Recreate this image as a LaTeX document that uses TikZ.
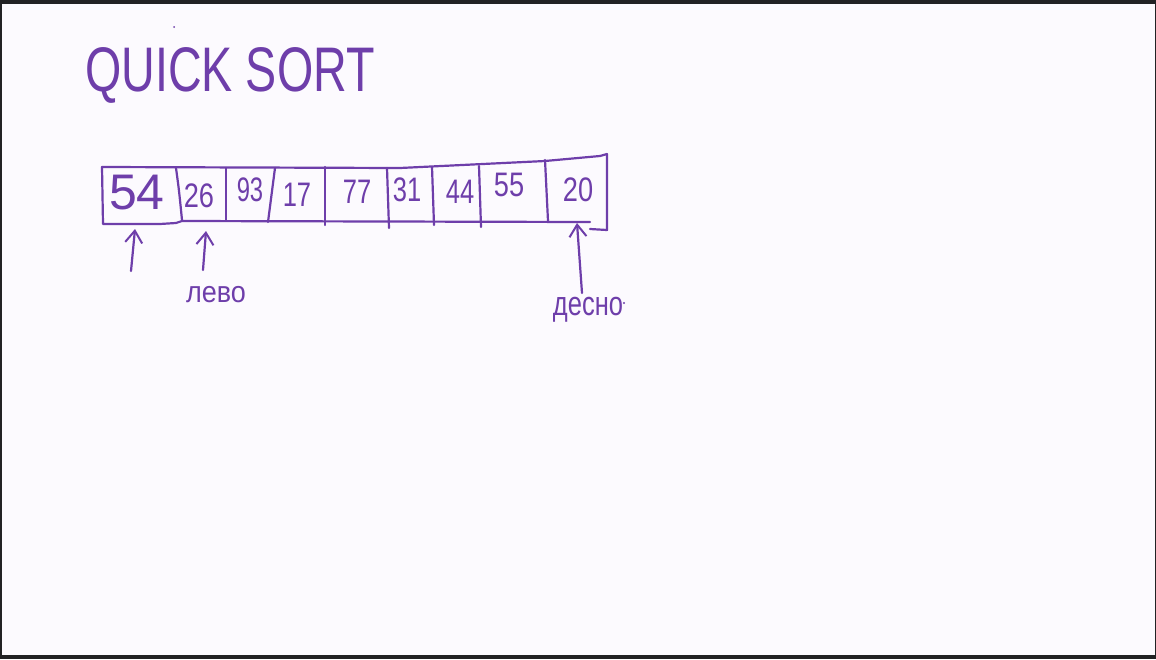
\documentclass[tikz,border=0pt]{standalone}
\usepackage{fontspec}
\usepackage{graphicx}
\setmainfont{Liberation Sans}
\usetikzlibrary{arrows.meta}
\definecolor{ink}{RGB}{110,62,170}
\definecolor{paper}{RGB}{252,250,254}
\definecolor{edgecol}{RGB}{34,34,36}
\begin{document}
\begin{tikzpicture}[x=1pt,y=-1pt,
  pen/.style={draw=ink, line width=2.2pt, line cap=round, line join=round},
  num/.style={text=ink, inner sep=0pt, font=\fontsize{34}{34}\selectfont},
  bignum/.style={text=ink, inner sep=0pt, font=\fontsize{50}{50}\selectfont},
  lbl/.style={text=ink, inner sep=0pt, anchor=base, font=\fontsize{30}{30}\selectfont},
  arr/.style={pen, -{Straight Barb[length=12pt,width=17pt,line width=2pt]}}]
\useasboundingbox (0,0) rectangle (1156,659);
\fill[edgecol] (0,0) rectangle (1156,659);
\fill[paper] (2,4) rectangle (1155,655);
% title
\node[text=ink, inner sep=0pt, anchor=base, font=\fontsize{63}{63}\selectfont] (title) at (230,91) {\scalebox{0.74}[1]{QUICK SORT}};
\fill[ink] (174,27) circle (1pt);
% array outline
\draw[pen] (102,167) -- (400,168) -- (545,161) -- (600,156) -- (607,154) -- (607,230) -- (590,229);
\draw[pen] (102,167) -- (103,224) -- (160,224) -- (176,223) -- (182,221) -- (590,222);
% dividers
\draw[pen] (176,168) .. controls (179,190) .. (182,220);
\draw[pen] (226,168) -- (226,220);
\draw[pen] (275,168) -- (268,222);
\draw[pen] (325,167) -- (325,225);
\draw[pen] (387,168) -- (389,228);
\draw[pen] (432,167) -- (434,225);
\draw[pen] (479,166) -- (481,227);
\draw[pen] (545,160) -- (548,221);
% numbers
\node[bignum] (n54) at (137,193) {54};
\node[num] (n26) at (199,196) {\scalebox{0.8}[1]{26}};
\node[num] (n93) at (250,190) {\scalebox{0.7}[1]{93}};
\node[num] (n17) at (297,195) {\scalebox{0.75}[1]{17}};
\node[num] (n77) at (357,192) {\scalebox{0.75}[1]{77}};
\node[num] (n31) at (407,190) {\scalebox{0.75}[1]{31}};
\node[num] (n44) at (460,192) {\scalebox{0.75}[1]{44}};
\node[num] (n55) at (509,185) {\scalebox{0.8}[1]{55}};
\node[num] (n20) at (578,190) {\scalebox{0.8}[1]{20}};
% pointers
\coordinate (p0s) at (131,271);
\coordinate (p0e) at (135,229);
\coordinate (p1s) at (203,270);
\coordinate (p1e) at (206,231);
\coordinate (p2s) at (582,293);
\coordinate (p2e) at (577,223);
\node[lbl] (levo) at (216,302) {\scalebox{0.9}[1]{лево}};
\node[lbl, font=\fontsize{34}{34}\selectfont] (desno) at (588,315) {\scalebox{0.75}[1]{десно}};
\fill[ink] (624,303) circle (1.2pt);
\draw[arr] (p0s) -- (p0e);
\draw[arr] (p1s) -- (p1e);
\draw[arr] (p2s) -- (p2e);
\end{tikzpicture}
\end{document}
